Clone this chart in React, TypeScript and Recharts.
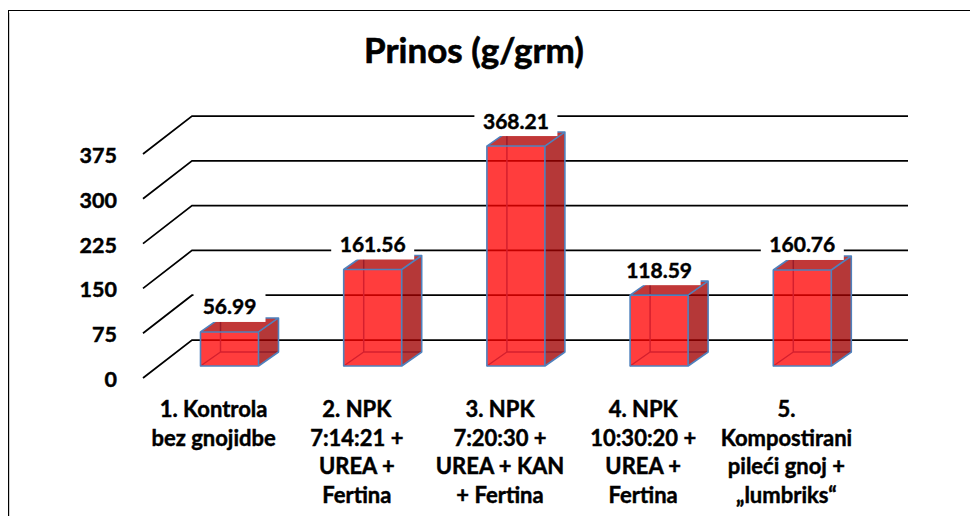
import React from 'react';
import { BarChart, Bar, XAxis, YAxis, CartesianGrid, LabelList } from 'recharts';

const categories = [
  '1. Kontrola\nbez gnojidbe',
  '2. NPK\n7:14:21 +\nUREA +\nFertina',
  '3. NPK\n7:20:30 +\nUREA + KAN\n+ Fertina',
  '4. NPK\n10:30:20 +\nUREA +\nFertina',
  '5.\nKompostirani\npileći gnoj +\n„lumbriks“',
];
const yieldValues = [56.99, 161.56, 368.21, 118.59, 160.76];
const yTicks = [0, 75, 150, 225, 300, 375];
const titleText = 'Prinos (g/grm)';

const data = categories.map((name, i) => ({ name, value: yieldValues[i] }));

const FONT = 'Lato, "Open Sans", "DejaVu Sans", sans-serif';
const DEPTH_X = 20;
const DEPTH_Y = 14;
const WALL_FRONT_DX = -14.5;
const WALL_FRONT_DY = 12;
const WALL_BACK_DX = 34.5;
const WALL_BACK_DY = -26;
const EDGE = '#4F81BD';
const TEXT_STROKE = 0.45;

function GridLine(props: any) {
  const { x1, x2, y1 } = props;
  const d = `M${x1 + WALL_FRONT_DX},${y1 + WALL_FRONT_DY} L${x1 + WALL_BACK_DX},${y1 + WALL_BACK_DY} L${x2 + WALL_BACK_DX},${y1 + WALL_BACK_DY}`;
  return <path key={`g-${y1}`} d={d} fill="none" stroke="#000" strokeWidth={1.75} />;
}

function Box3D(props: any) {
  const { x, y, width: w, height: h } = props;
  if (x == null || y == null || !w || h == null) return null;
  const dx = DEPTH_X;
  const dy = DEPTH_Y;
  const top = `${x},${y} ${x + dx},${y - dy} ${x + w + dx},${y - dy} ${x + w},${y}`;
  const side = `${x + w},${y} ${x + w + dx},${y - dy} ${x + w + dx},${y + h - dy} ${x + w},${y + h}`;
  return (
    <g>
      <path
        d={`M${x + dx},${y - dy} V${y + h - dy} H${x + w + dx} M${x},${y + h} L${x + dx},${y + h - dy}`}
        stroke={EDGE}
        strokeWidth={1.5}
        fill="none"
      />
      <polygon points={top} fill="#B00000" fillOpacity={0.78} />
      <polygon points={side} fill="#A00000" fillOpacity={0.78} />
      <rect x={x} y={y} width={w} height={h} fill="#FF0000" fillOpacity={0.76} />
      <path
        d={`M${x},${y} H${x + w} V${y + h} H${x} Z M${x},${y} L${x + dx},${y - dy} H${x + w + dx} V${y + h - dy} L${x + w},${y + h} M${x + w},${y} L${x + w + dx},${y - dy}`}
        stroke={EDGE}
        strokeWidth={1.6}
        fill="none"
        strokeLinejoin="round"
      />
    </g>
  );
}

function ValueLabel(props: any) {
  const { x, y, width, value } = props;
  if (x == null || y == null) return null;
  const text = Number(value).toFixed(2);
  const cx = x + width / 2;
  const tw = text.length * 11 + 17;
  return (
    <g>
      <rect x={cx - tw / 2} y={y - 42} width={tw} height={32} fill="#fff" />
      <text
        x={cx}
        y={y - 17.5}
        textAnchor="middle"
        fontFamily={FONT}
        fontWeight={700}
        fontSize={21}
        fill="#000"
        stroke="#000"
        strokeWidth={TEXT_STROKE}
      >
        {text}
      </text>
    </g>
  );
}

function YTick(props: any) {
  const { x, y, payload } = props;
  return (
    <text
      x={x - 40.5}
      y={y + 21}
      textAnchor="end"
      fontFamily={FONT}
      fontWeight={700}
      fontSize={21.5}
      fill="#000"
      stroke="#000"
      strokeWidth={TEXT_STROKE}
    >
      {payload.value}
    </text>
  );
}

function XTick(props: any) {
  const { x, y, payload } = props;
  const lines = String(payload.value).split('\n');
  return (
    <text
      textAnchor="middle"
      fontFamily={FONT}
      fontWeight={700}
      fontSize={22}
      fill="#000"
      stroke="#000"
      strokeWidth={TEXT_STROKE}
    >
      {lines.map((ln, i) => (
        <tspan key={i} x={x - 15.5} y={y + 51 + i * 28.5}>
          {ln}
        </tspan>
      ))}
    </text>
  );
}

export default function App() {
  return (
    <div style={{ position: 'relative', width: 962, height: 508 }}>
      <div
        style={{
          position: 'absolute',
          left: 0,
          top: 2,
          width: 970,
          height: 506,
          borderTop: '1px solid #000',
          borderLeft: '1px solid #000',
          boxSizing: 'border-box',
        }}
      />
      <div
        style={{
          position: 'absolute',
          left: 1,
          top: 5,
          width: 1,
          height: 503,
          background: '#d0d0d0',
        }}
      />
      <div
        style={{
          position: 'absolute',
          left: 266,
          top: 19.5,
          width: 400,
          textAlign: 'center',
          fontFamily: FONT,
          fontWeight: 700,
          fontSize: 35,
          lineHeight: '42px',
          color: '#000',
          whiteSpace: 'nowrap',
          WebkitTextStroke: '0.6px #000',
        }}
      >
        {titleText}
      </div>
      <BarChart
        width={962}
        height={508}
        data={data}
        margin={{ top: 134, right: 96.5, bottom: 10, left: 90 }}
        style={{ position: 'absolute', left: 0, top: 0 }}
      >
        <CartesianGrid vertical={false} horizontal={GridLine as any} />
        <XAxis
          dataKey="name"
          height={140}
          axisLine={false}
          tickLine={false}
          tickSize={0}
          tickMargin={0}
          interval={0}
          tick={<XTick />}
        />
        <YAxis
          type="number"
          domain={[0, 375]}
          ticks={yTicks}
          width={59.5}
          axisLine={false}
          tickLine={false}
          tickSize={0}
          tickMargin={0}
          tick={<YTick />}
        />
        <Bar dataKey="value" barSize={58} shape={<Box3D />} isAnimationActive={false}>
          <LabelList dataKey="value" content={<ValueLabel />} />
        </Bar>
      </BarChart>
    </div>
  );
}
